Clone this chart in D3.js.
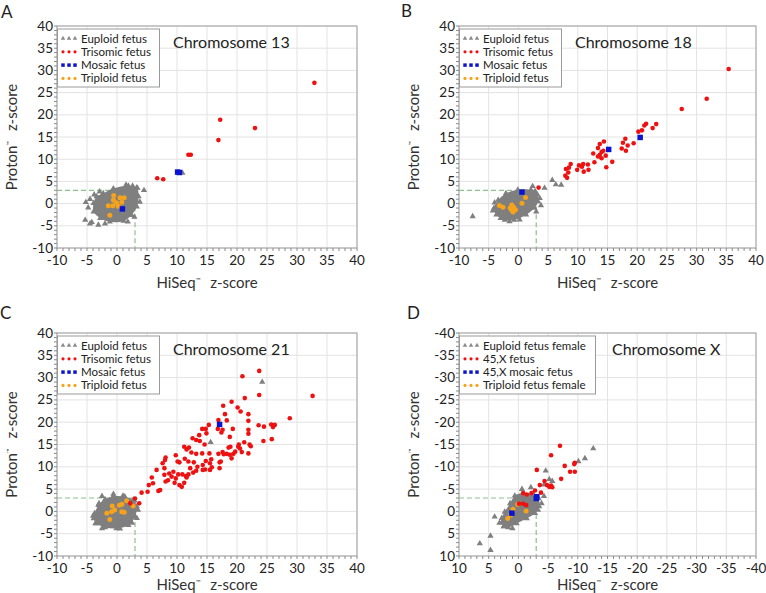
<!DOCTYPE html>
<html>
<head>
<meta charset="utf-8">
<script src="https://cdn.jsdelivr.net/npm/d3@7"></script>
<style>
  body { margin: 0; background: #fff; }
  svg { display: block; font-family: Lato, "Open Sans", sans-serif; }
</style>
</head>
<body>
<svg id="chart" width="766" height="593"></svg>
<script>
// ---- data: [HiSeq z-score, Proton z-score] ----

// Chromosome 13
const chr13EuploidCore = [[-2.3, 2.3], [-0.6, 3.4], [1.9, 4.0], [3.3, 3.6], [3.6, 1.6], [3.3, -0.7], [2.4, -2.6],
  [1.1, -3.9], [-1.2, -4.1], [-2.8, -3.3], [-3.9, -1.8], [-3.9, 0.1], [-3.4, 1.6]];
const chr13EuploidOutliers = [[10.9, 6.9], [4.5, 3.0], [3.4, 3.5], [3.8, 0.4], [-5.2, 0.3], [-4.8, -0.9], [-5.3, -3.7],
  [-4.5, -4.5], [-3.1, -4.8], [-4.2, -4.2], [-2.0, -4.5], [1.8, -4.1], [2.9, -3.0], [-4.5, 1.0], [-3.8, 2.0],
  [-2.9, 2.7], [1.5, 4.2], [2.6, 4.0]];
const chr13Trisomic = [[32.9, 27.2], [17.2, 18.9], [23.0, 17.0], [16.9, 14.3], [11.9, 11.0], [12.3, 11.0],
  [6.7, 5.7], [7.7, 5.5]];
const chr13Mosaic = [[10.1, 7.1], [10.4, 7.0], [0.9, -1.2]];
const chr13Triploid = [[-0.55, 1.8], [0.5, 1.3], [1.2, 1.3], [-0.6, 0.8], [-0.1, 0.2], [0.8, 0.3], [-1.45, -0.5],
  [-0.7, -0.5], [0.2, -0.6], [-1.2, -2.6]];

// Chromosome 18
const chr18EuploidCore = [[-3.4, 0.8], [-2.1, 2.3], [-0.1, 3.1], [2.1, 3.1], [3.2, 2.0], [3.3, 0.5], [2.7, -1.0],
  [1.3, -2.5], [-0.7, -3.7], [-2.3, -3.7], [-3.7, -2.5], [-4.1, -1.0]];
const chr18EuploidOutliers = [[-7.7, -2.9], [5.7, 5.3], [6.3, 4.3], [7.2, 4.2], [4.4, 3.5], [2.4, 3.9], [3.8, -0.4],
  [-4.3, -1.6], [-4.0, 0.2], [-3.0, -3.3], [-1.5, -4.0], [0.2, -3.6], [2.8, 2.8], [3.6, 1.2], [3.0, -1.8]];
const chr18Trisomic = [[35.4, 30.3], [31.7, 23.6], [27.5, 21.3], [23.2, 17.9], [22.6, 17.0], [21.5, 18.0],
  [21.2, 17.6], [20.8, 16.5], [20.2, 16.2], [19.4, 13.6], [18.0, 14.6], [17.6, 13.7], [18.4, 13.1], [17.4, 12.4],
  [18.1, 11.9], [15.8, 9.4], [14.8, 8.2], [14.4, 14.0], [13.7, 13.4], [13.4, 12.5], [12.6, 11.3], [14.0, 11.6],
  [14.3, 11.9], [13.7, 11.0], [14.0, 10.2], [13.4, 10.6], [14.7, 10.8], [12.8, 9.3], [11.7, 8.8], [11.8, 7.6],
  [10.9, 8.9], [10.7, 8.3], [10.2, 8.6], [9.9, 7.6], [11.0, 7.2], [8.8, 8.9], [8.5, 8.1], [8.0, 7.8], [8.4, 7.0],
  [7.9, 6.3], [8.2, 5.8], [3.4, 3.6]];
const chr18Mosaic = [[15.2, 12.2], [20.5, 14.9], [0.6, 2.6]];
const chr18Triploid = [[-3.2, -0.4], [-2.6, -0.8], [-1.4, -1.0], [-1.1, -0.3], [-0.8, -0.8], [-0.5, -1.4],
  [-1.2, -1.4], [1.2, 1.4], [0.6, 0.1], [-0.9, -1.9]];

// Chromosome 21
const chr21EuploidCore = [[-3.7, -0.4], [-3.1, 1.4], [-2.0, 2.7], [-0.6, 3.4], [1.3, 3.3], [2.7, 2.6], [3.3, 1.1],
  [3.0, -1.2], [1.9, -3.1], [-0.1, -3.8], [-2.0, -3.6], [-3.4, -2.7], [-3.9, -1.6]];
const chr21EuploidOutliers = [[24.2, 29.0], [15.6, 15.5], [-2.5, 3.4], [-0.6, 3.9], [3.5, 0.3], [-4.0, -1.0],
  [-3.6, -2.7], [-2.5, -3.8], [0.5, -3.9], [2.5, -2.6], [3.3, -1.5], [2.9, 2.4], [1.0, 3.5], [-3.0, 1.8]];
const chr21Trisomic = [
  [2.2, 1.8], [3.0, 2.9], [3.7, 1.8], [4.1, 4.2], [5.1, 4.4], [5.3, 5.9],
  [15.3, 19.4], [14.2, 18.5], [14.8, 18.5], [16.8, 18.5], [13.7, 17.1], [14.9, 17.5], [12.6, 16.4], [13.2, 16.0],
  [13.8, 15.8], [14.6, 15.0], [11.2, 14.5], [11.6, 13.9], [12.0, 14.3], [9.8, 12.6], [12.4, 13.2], [13.2, 12.9],
  [14.2, 13.0], [15.4, 13.0], [16.9, 12.9], [15.7, 11.7], [14.8, 11.3], [14.3, 10.4], [15.5, 10.8], [17.1, 11.0],
  [17.1, 9.7], [15.8, 9.9], [15.5, 9.3], [14.7, 9.4], [14.3, 9.3], [13.4, 10.0], [12.8, 11.0], [11.9, 11.2],
  [11.3, 11.8], [10.4, 11.0], [10.1, 11.2], [12.2, 9.7], [12.7, 8.7], [13.2, 9.1], [11.9, 8.3], [11.5, 7.9],
  [10.9, 8.3], [10.2, 8.3], [9.4, 8.9], [9.1, 7.8], [8.7, 8.5], [9.8, 7.4], [9.6, 6.4], [8.5, 7.0], [8.1, 6.7],
  [7.9, 8.2], [7.9, 9.7], [7.6, 10.8], [8.1, 12.1], [8.0, 11.5], [6.6, 9.3], [5.8, 7.6], [6.0, 6.3], [7.2, 4.8],
  [6.9, 4.6], [10.8, 5.5], [10.4, 5.9], [11.2, 6.4], [11.6, 7.6], [17.4, 17.7], [17.6, 18.3], [16.9, 20.5],
  [23.7, 31.5], [20.9, 30.3], [23.7, 26.1], [32.6, 25.9], [21.3, 25.4], [19.1, 24.6], [17.7, 23.7], [20.1, 23.3],
  [20.6, 22.4], [21.9, 21.8], [18.0, 21.8], [28.8, 20.9], [18.3, 20.4], [21.9, 20.3], [23.6, 19.3], [24.5, 19.0],
  [25.7, 19.5], [26.3, 19.4], [26.0, 18.9], [19.3, 18.5], [21.9, 18.3], [21.9, 17.4], [18.8, 16.7], [25.8, 16.2],
  [24.4, 15.8], [21.2, 15.5], [22.1, 15.0], [22.3, 14.6], [20.3, 15.0], [20.2, 14.5], [20.5, 14.1], [18.6, 14.3],
  [19.7, 13.4], [20.8, 13.3], [19.4, 12.9], [18.8, 12.7], [17.6, 13.3], [18.3, 12.9], [17.8, 12.8], [19.1, 11.9],
  [21.9, 13.0], [17.3, 11.2], [18.9, 14.5]];
const chr21Mosaic = [[17.1, 19.5]];
const chr21Triploid = [[-0.8, 1.2], [0.4, 1.4], [0.8, 1.6], [-0.4, 0.3], [-0.9, -0.1], [-1.7, -0.4], [0.8, -0.1],
  [1.2, -0.2], [-1.2, -1.8], [1.6, 2.4], [2.7, 1.2]];

// Chromosome X (both axes reversed)
const chrXEuploidCore = [[2.8, 1.5], [2.3, 0.1], [1.4, -1.8], [0.6, -3.5], [-0.8, -4.1], [-2.5, -3.9], [-3.4, -2.9],
  [-3.5, -1.1], [-2.8, 0.4], [-1.4, 1.6], [0.3, 2.7], [1.7, 3.6], [2.5, 3.4], [2.8, 2.5]];
const chrXEuploidOutliers = [[-12.6, -14.1], [-11.2, -11.9], [-10.1, -11.2], [-4.6, -9.1], [-0.6, -5.0],
  [-5.2, -7.2], [-5.7, -6.8], [-4.3, -6.0], [-2.1, -5.4], [6.5, 7.2], [4.7, 5.5], [4.7, 8.7], [2.4, 3.4],
  [4.0, 1.2], [-3.9, -1.8], [-3.3, -0.3], [-4.3, -3.4], [3.2, 2.6], [1.0, 3.8]];
const chrXMonosomy = [[-7.0, -14.7], [-5.5, -12.6], [-7.8, -10.2], [-9.5, -10.9], [-9.4, -10.6], [-8.7, -8.9],
  [-9.5, -8.9], [-7.2, -7.3], [-3.1, -9.3], [-4.4, -6.8], [-4.8, -5.9], [-5.5, -5.8], [-5.2, -5.5], [-5.7, -5.4],
  [-3.6, -5.9], [-3.8, -4.2], [-2.8, -4.7], [-2.2, -4.1], [-1.4, -3.8], [-0.8, -4.1], [-0.1, -1.7], [-0.8, -1.7],
  [-1.3, -1.4]];
const chrXMosaic = [[-3.1, -3.3], [-3.0, -2.9], [1.1, 0.4]];
const chrXTriploid = [[0.1, -1.6], [0.9, -0.5], [1.3, 0.8], [1.8, 1.6], [-1.3, -0.1]];

const legendAutosome = ['Euploid fetus', 'Trisomic fetus', 'Mosaic fetus', 'Triploid fetus'];
const legendX = ['Euploid fetus female', '45,X fetus', '45,X mosaic fetus', 'Triploid fetus female'];

const COLORS = { euploid: '#7f7f7f', abnormal: '#ee1111', mosaic: '#0a14d0', triploid: '#f5a31c' };

const svg = d3.select('#chart');

function drawPanel(p) {
  const g = svg.append('g');
  const x = d3.scaleLinear().domain(p.xDomain).range([p.x0, p.x1]);
  const y = d3.scaleLinear().domain(p.yDomain).range([p.y1, p.y0]);
  const xLo = Math.min(...p.xDomain), xHi = Math.max(...p.xDomain);
  const yLo = Math.min(...p.yDomain), yHi = Math.max(...p.yDomain);
  const major = (lo, hi) => d3.range(lo, hi + 1, 5);
  const minor = (lo, hi) => d3.range(lo, hi + 1, 1);

  // grid
  g.selectAll('.vgrid').data(major(xLo, xHi)).join('line')
    .attr('x1', d => x(d)).attr('x2', d => x(d)).attr('y1', p.y0).attr('y2', p.y1)
    .attr('stroke', '#e3e3e3').attr('stroke-width', 1);
  g.selectAll('.hgrid').data(major(yLo, yHi)).join('line')
    .attr('y1', d => y(d)).attr('y2', d => y(d)).attr('x1', p.x0).attr('x2', p.x1)
    .attr('stroke', '#e3e3e3').attr('stroke-width', 1);

  // frame
  g.append('rect').attr('x', p.x0).attr('y', p.y0)
    .attr('width', p.x1 - p.x0).attr('height', p.y1 - p.y0)
    .attr('fill', 'none').attr('stroke', '#a0a0a0');

  // minor ticks (make the left axis look dotted)
  g.selectAll('.xminor').data(minor(xLo, xHi)).join('line')
    .attr('x1', d => x(d)).attr('x2', d => x(d)).attr('y1', p.y1).attr('y2', p.y1 + 3)
    .attr('stroke', '#8a8a8a');
  g.selectAll('.yminor').data(minor(yLo, yHi)).join('line')
    .attr('y1', d => y(d)).attr('y2', d => y(d)).attr('x1', p.x0 - 3).attr('x2', p.x0)
    .attr('stroke', '#8a8a8a');

  // tick labels
  g.selectAll('.xlab').data(major(xLo, xHi)).join('text')
    .attr('x', d => x(d)).attr('y', p.y1 + 17)
    .attr('text-anchor', 'middle').attr('font-size', 13.5).attr('fill', '#222')
    .text(d => String(d));
  g.selectAll('.ylab').data(major(yLo, yHi)).join('text')
    .attr('x', p.x0 - 4).attr('y', d => y(d) + 4.5)
    .attr('text-anchor', 'end').attr('font-size', 13.5).attr('fill', '#222')
    .text(d => String(d));

  // cut-off lines at |z| = 3
  const thr = p.threshold;
  const dash = g.append('g').attr('stroke', '#8fc08f').attr('stroke-width', 1.2)
    .attr('stroke-dasharray', '5,3').attr('fill', 'none');
  dash.append('line').attr('x1', p.x0).attr('x2', x(thr)).attr('y1', y(thr)).attr('y2', y(thr));
  dash.append('line').attr('x1', x(thr)).attr('x2', x(thr)).attr('y1', y(thr)).attr('y2', p.y1);

  const tri = d3.symbol(d3.symbolTriangle, 17);
  const sq = d3.symbol(d3.symbolSquare, 30);

  // euploid cloud: dense core + individual triangles
  g.append('path').datum(p.core)
    .attr('d', d3.line().x(d => x(d[0])).y(d => y(d[1])).curve(d3.curveCatmullRomClosed))
    .attr('fill', COLORS.euploid);
  g.selectAll('.eu').data(p.core.concat(p.outliers)).join('path')
    .attr('transform', d => `translate(${x(d[0])},${y(d[1])})`)
    .attr('d', tri).attr('fill', COLORS.euploid);

  g.selectAll('.trip').data(p.triploid).join('circle')
    .attr('cx', d => x(d[0])).attr('cy', d => y(d[1])).attr('r', 2.5)
    .attr('fill', COLORS.triploid);
  g.selectAll('.ab').data(p.abnormal).join('circle')
    .attr('cx', d => x(d[0])).attr('cy', d => y(d[1])).attr('r', 2.3)
    .attr('fill', COLORS.abnormal);
  g.selectAll('.mos').data(p.mosaic).join('path')
    .attr('transform', d => `translate(${x(d[0])},${y(d[1])})`)
    .attr('d', sq).attr('fill', COLORS.mosaic);

  // legend
  const lg = g.append('g').attr('transform', `translate(${p.x0},${p.y0 + 3})`);
  lg.append('rect').attr('x', 0.5).attr('y', 0).attr('width', p.legendW).attr('height', 58)
    .attr('fill', '#fff').attr('stroke', '#9a9a9a');
  const legTri = d3.symbol(d3.symbolTriangle, 9);
  const legSq = d3.symbol(d3.symbolSquare, 12);
  const kinds = ['euploid', 'abnormal', 'mosaic', 'triploid'];
  p.legend.forEach((label, i) => {
    const ly = 9.5 + i * 13.3;
    [6, 12, 18].forEach(mx => {
      const t = `translate(${mx},${ly})`;
      if (i === 0) lg.append('path').attr('transform', t).attr('d', legTri).attr('fill', '#8a8a8a');
      else if (i === 2) lg.append('path').attr('transform', t).attr('d', legSq).attr('fill', COLORS.mosaic);
      else lg.append('circle').attr('cx', mx).attr('cy', ly).attr('r', 1.6).attr('fill', COLORS[kinds[i]]);
    });
    lg.append('text').attr('x', 24).attr('y', ly + 4).attr('font-size', 11.5).attr('fill', '#222').text(label);
  });

  // title
  g.append('text').attr('x', p.x0 + p.titleDx).attr('y', p.y0 + 22)
    .attr('font-size', 16).attr('fill', '#222').text(p.title);

  // axis titles
  const xt = g.append('text').attr('x', (p.x0 + p.x1) / 2).attr('y', p.y1 + p.xTitleDy)
    .attr('text-anchor', 'middle').attr('font-size', 15).attr('fill', '#333');
  xt.append('tspan').text('HiSeq');
  xt.append('tspan').attr('font-size', 6).attr('dy', -6).text('™');
  xt.append('tspan').attr('dy', 6).attr('dx', 10).text('z-score');

  const yt = g.append('text')
    .attr('transform', `translate(${p.x0 - 40},${(p.y0 + p.y1) / 2}) rotate(-90)`)
    .attr('text-anchor', 'middle').attr('font-size', 15).attr('fill', '#333');
  yt.append('tspan').text('Proton');
  yt.append('tspan').attr('font-size', 6).attr('dy', -6).text('™');
  yt.append('tspan').attr('dy', 6).attr('dx', 10).text('z-score');

  // panel letter
  svg.append('text').attr('x', p.letterX).attr('y', p.letterY)
    .attr('font-size', 17).attr('fill', '#222').text(p.letter);
}

drawPanel({
  letter: 'A', letterX: 1, letterY: 18, title: 'Chromosome 13', titleDx: 116,
  x0: 57, x1: 357, y0: 26, y1: 248, xDomain: [-10, 40], yDomain: [-10, 40], threshold: 3,
  xTitleDy: 40, legendW: 102, legend: legendAutosome,
  core: chr13EuploidCore, outliers: chr13EuploidOutliers,
  abnormal: chr13Trisomic, mosaic: chr13Mosaic, triploid: chr13Triploid
});
drawPanel({
  letter: 'B', letterX: 401, letterY: 17, title: 'Chromosome 18', titleDx: 116,
  x0: 459, x1: 756, y0: 26, y1: 248, xDomain: [-10, 40], yDomain: [-10, 40], threshold: 3,
  xTitleDy: 40, legendW: 102, legend: legendAutosome,
  core: chr18EuploidCore, outliers: chr18EuploidOutliers,
  abnormal: chr18Trisomic, mosaic: chr18Mosaic, triploid: chr18Triploid
});
drawPanel({
  letter: 'C', letterX: 0, letterY: 319, title: 'Chromosome 21', titleDx: 116,
  x0: 57, x1: 357, y0: 333, y1: 556, xDomain: [-10, 40], yDomain: [-10, 40], threshold: 3,
  xTitleDy: 34, legendW: 102, legend: legendAutosome,
  core: chr21EuploidCore, outliers: chr21EuploidOutliers,
  abnormal: chr21Trisomic, mosaic: chr21Mosaic, triploid: chr21Triploid
});
drawPanel({
  letter: 'D', letterX: 407, letterY: 319, title: 'Chromosome X', titleDx: 153,
  x0: 459, x1: 756, y0: 333, y1: 556, xDomain: [10, -40], yDomain: [10, -40], threshold: -3,
  xTitleDy: 34, legendW: 136, legend: legendX,
  core: chrXEuploidCore, outliers: chrXEuploidOutliers,
  abnormal: chrXMonosomy, mosaic: chrXMosaic, triploid: chrXTriploid
});
</script>
</body>
</html>
